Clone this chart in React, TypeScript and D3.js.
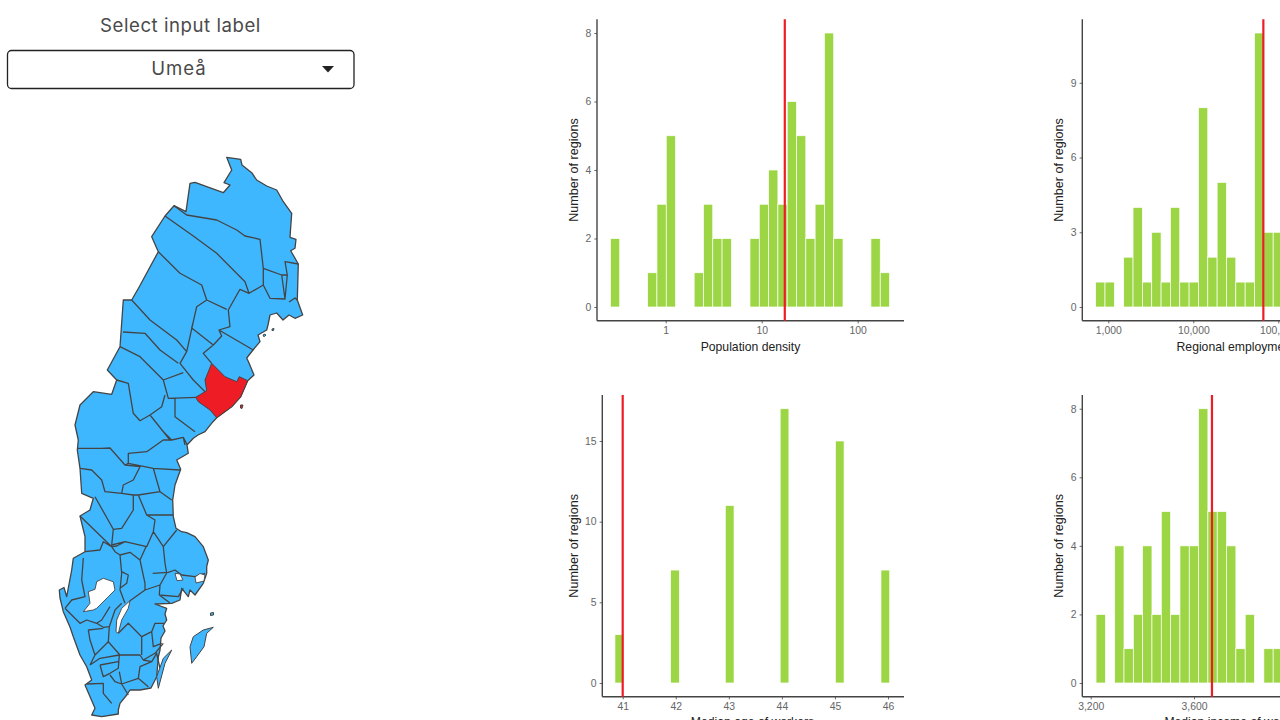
import React, { useEffect, useRef } from "react";
import * as d3 from "d3";

// ---------- histogram data ----------
const densityCounts = [2,0,0,0,1,3,5,0,0,1,3,2,2,0,0,2,3,4,3,6,5,2,3,8,2,0,0,0,2,1];
const densityFirstBin = 0.297;
const densityBinRatio = 1.25;
const densityMarker = 17.4;
const densityTicks = [1, 10, 100];

const employmentCounts = [1,1,0,2,4,1,3,1,4,1,1,8,2,5,2,1,1,11,3,3];
const employmentFirstBin = 806;
const employmentBinRatio = 1.288;
const employmentMarker = 66700;
const employmentTicks = [1000, 10000, 100000];

const ageBins = [40.936, 41.986, 43.016, 44.05, 45.09, 45.95];
const ageCounts = [3, 7, 11, 17, 15, 7];
const ageMarker = 41;
const ageTicks = [41, 42, 43, 44, 45, 46];

const incomeCounts = [2,0,4,1,2,4,2,5,2,4,4,8,5,5,4,1,2,0,1,1];
const incomeFirstBin = 3238.7;
const incomeBinWidth = 36.1;
const incomeMarker = 3669.6;
const incomeTicks = [3200, 3600];

const countTicksA = [0, 2, 4, 6, 8];
const countTicksB = [0, 3, 6, 9];
const countTicksC = [0, 5, 10, 15];

// ---------- map outlines, traced in picture units ----------
const swedenOutline: number[][] = [
  [226.7,157.3],[240.7,159.3],[242,165],[251.7,172.7],[256.7,180],[266.7,186],[276.7,190],[283.3,201.7],[291.7,213.3],
  [290,237.3],[296,239.3],[295,248.3],[290.7,250.7],[298.3,264],[297.3,300],[302.7,315],[295,318.3],[289,315],[283,320],
  [276.7,313],[270,315],[268,325],[266.7,330],[258,335],[260,341.7],[253,350],[246.7,358],[249,363],[254,375],[247.7,380.7],
  [240.7,396.7],[231.7,406.7],[216.7,417.7],[213,421.7],[205,431.7],[198,435],[193.3,438.3],[187,445],[188.3,453.3],
  [176.7,460],[180.7,469.3],[175,485],[172.7,500],[173.3,516.7],[176,528.3],[181.7,531.7],[186.7,532.7],[195,536.7],
  [203.3,546.7],[208.3,560],[206.7,566.7],[206.7,573.3],[203.3,583.3],[195,595],[190,590],[188.3,596.7],[181.7,588.3],
  [180,600],[171.7,603.3],[155,604],[166.7,608.3],[165,614],[166.7,620],[163,626],[165,631],[161,638],[160,650],[158.3,657],
  [156.7,676.7],[151,688],[140,690],[130,690],[126.7,695],[120,703.3],[118.3,710],[118.3,714],[101.7,716.7],[91.7,715],[95,708.3],
  [85,685],[91.7,680],[86.7,666.7],[80,655],[73.3,636.7],[70,627],[63.3,611.7],[60,598],[59.3,590],[64,587.5],[66.7,596.7],
  [71.7,570],[73.3,558.3],[85,551.7],[85,536.7],[80,516],[90,510],[93.3,498.3],[81.7,493.3],
  [80,468.3],[77.3,450],[78.3,440],[75,425],[80,405],[93.3,391.7],[111.7,394.3],[116.7,380],[107.3,370],[120,346.7],[123.3,300],
  [131.7,300],[139.3,286.7],[158.3,251.7],[151.7,236.7],[165,216],[174,205.7],[186,211.7],[190,183.3],[195,182.3],[223.3,192.7],
  [230,185],[224,182.7],[231.7,170],
];
const umeaRegion: number[][][] = [
  [[211.7,363.3],[225,376.7],[236.7,381.7],[239.3,376.7],[247.7,380.7],[240.7,396.7],[231.7,406.7],[216.7,417.7],[210,410],
   [198.3,401.7],[195.7,397.3],[206.7,390.7],[205,380]],
  [[240.5,405],[243,405],[242,408.5],[240.5,408]],
];
const regionBorders: number[][][] = [
  [[174,205.7],[186.7,215],[216.7,220],[236.7,230],[245,236],[260,239.3],[263.3,268.3],[281.7,275],[287.3,275],[285,261.7],[298.3,264]],
  [[165,216],[193.3,236],[216.7,253.3],[245,281.7],[249,293.3],[263.3,285],[263.3,268.3]],
  [[263.3,285],[270,298.3],[285,299],[281.7,275]],
  [[285,299],[287.3,275]],
  [[289,302],[295,298],[297.3,300]],
  [[249,293.3],[240,289.3],[228.3,310],[230,326.7],[219,330],[253.3,350]],
  [[158.3,251.7],[180,273.3],[201.7,285],[206.7,300],[226.7,309.3]],
  [[206.7,300],[196.7,306.7],[193.3,321.7],[191.7,328],[213.3,345],[221.7,336],[219,330]],
  [[213.3,345],[203.3,353.3],[211.7,363.3]],
  [[131.7,300],[150,320],[176.7,340],[186.7,351.7],[193.3,321.7]],
  [[186.7,351.7],[180,363.3],[193.3,380],[205,391.7]],
  [[123,332],[145,333.3],[160,350],[178.3,363.3]],
  [[120,346.7],[140,356.7],[163.3,380],[183.3,372.7]],
  [[163.3,380],[168.3,398.3],[196.7,397.3]],
  [[116.7,380],[128.3,383.3],[133.3,413.3],[140,420.7],[150,415],[161.7,406.7],[165,395]],
  [[175,398],[175,416.7],[188.3,426.7],[195,431.7]],
  [[150,415],[170,440]],
  [[161.7,430],[171.7,440],[183.3,437.3],[187.3,445]],
  [[183.3,437.3],[185,445]],
  [[171.7,440],[163.3,440],[146.7,451.7],[128.3,453.3],[128.3,463.3],[153.3,468.3],[180,470]],
  [[77.3,448.3],[101.7,448.3],[110,448],[125,465],[128.3,463.3]],
  [[80,468.3],[91.7,470],[101.7,480],[105,491.7],[121.7,493.3],[133.3,495],[133.3,510],[121.7,528.3],[113.3,529.3],[95,496.7]],
  [[125,465],[140,466.7],[133.3,480],[123.3,485],[121.7,493.3]],
  [[153.3,468.3],[160,491.7],[138.3,495],[133.3,495]],
  [[160,491.7],[171.7,500]],
  [[138.3,495],[146.7,515],[173,515]],
  [[146.7,515],[155,520],[153.3,531.7],[146.7,546.7],[125,541.7],[116.7,546],[111.7,546.7]],
  [[153.3,531.7],[163.3,546.7],[176.7,530]],
  [[113.3,529.3],[111.7,545],[125,541.7]],
  [[111.7,546.7],[103.3,541.7],[100,550],[85,551.7]],
  [[80,516],[111.7,546.7],[115,551.7],[120,555]],
  [[83.3,558],[81.7,580],[85,596.7],[71.7,600],[65,608.3]],
  [[120,555],[121.7,573.3],[120,590],[125,603.3]],
  [[121.7,571.7],[128.3,575],[126.7,583.3],[120,588.3]],
  [[120,555],[130,552.3],[140,560],[145,583.3],[145,590],[130,600.7]],
  [[140,560],[146,546.7]],
  [[163.3,546.7],[165,563.3],[166.7,573],[160,585],[145,590]],
  [[152.7,573.3],[168.3,572.3],[175,570],[181.7,575],[195,576.7],[205,573.3]],
  [[160,585],[159.3,595],[178.3,596.7],[183.3,588.3]],
  [[159.3,595],[170,603]],
  [[65,608.3],[71.7,615],[80,623.3],[86.7,620],[96.7,623.3],[101.7,620],[110,606.7]],
  [[96.7,623.3],[103.3,627.3],[109.3,626.7],[115,610],[121.7,603.3]],
  [[109.3,626.7],[108.3,641.7],[120,655],[140,655],[143.3,660],[155,653.3],[163.3,643.3]],
  [[118.3,633.3],[128.3,623.3],[141.7,636.7],[151.7,631.7],[155,623.3],[164,623.3]],
  [[141.7,636.7],[141.7,655]],
  [[151.7,631.7],[153.3,646.7],[161.7,643.3]],
  [[88.3,630],[103.3,628.3]],
  [[88.3,630],[90,640],[95,655],[90,665]],
  [[95,655],[108.3,641.7]],
  [[90,665],[100,658.3],[119.3,655]],
  [[100,665],[103.3,676.7],[110,673.3],[118.3,668.3],[119.3,655]],
  [[100,665],[118.3,661.7]],
  [[110,675],[115,681.7],[121.7,684]],
  [[119.3,671.7],[121.7,684],[138.3,678.3],[148.3,686.7]],
  [[138.3,678.3],[140,666.7],[151.7,661.7],[156.7,653.3],[160,668.3]],
  [[143.3,660],[151.7,661.7]],
  [[86.7,684],[103.3,683.3],[103.3,693.3],[111.7,703.3]],
  [[115,681.7],[121.7,684],[128.3,695]],
];
const lakeOutlines: number[][][] = [
  [[96.7,581.7],[103.3,578.3],[113.3,581.7],[115,590],[108.3,596.7],[100,605],[96.7,608.3],[93.3,610],[83.3,611.7],[90,603.3],[88.3,591.7],[95,589.3]],
  [[130,600.7],[128.3,608.3],[121.7,620],[118.3,633.3],[116,631.7],[116.7,620],[121.7,608.3]],
  [[175,573.3],[180,574],[183,580],[177,580.7]],
  [[195,577],[200,573.5],[205,575],[204,581],[196,583]],
];
const islandOutlines: number[][][] = [
  [[171.7,650],[165,663.3],[158.3,688.3],[156.7,676.7],[163.3,658.3]],
  [[213.3,627.3],[203.3,630],[193.3,636.7],[190,646.7],[191.7,663.3],[196.7,656.7],[204,646.7],[206.7,633.3]],
  [[210.5,613],[213.5,612.5],[213.5,615],[210.5,615.5]],
  [[272,329],[274,328.5],[273.5,330.5],[272,330.5]],
  [[264,334],[266,335],[264.5,336.5],[263,336]],
];

const titleText = "Select input label";
const selectedRegion = "Umeå";
const countTitle = "Number of regions";

// ---------- look ----------
const barColor = "#9DD644";
const markerColor = "#EE1C25";
const blue = "#3FB7FF";

const toMulti = (rings: number[][][]) => ({ type: "MultiPolygon", coordinates: rings.map((r) => [[...r, r[0]]]) });
const mapPath = d3.geoPath(d3.geoIdentity());

type Bin = { lo: number; hi: number; n: number };

function Panel(props: {
  x: any; y: any; left: number; right: number; bins: Bin[]; marker: number; xTicks: number[]; yTicks: number[];
  fmt: (v: number) => string; title: string; titleX: number; yTitleX: number; xTitleY: number;
}) {
  const { x, y, left, right, bins, marker, xTicks, yTicks, fmt, title, titleX, yTitleX, xTitleY } = props;
  const gx = useRef<SVGGElement>(null);
  const gy = useRef<SVGGElement>(null);
  const [y0, y1] = y.range();
  useEffect(() => {
    const ax = d3.axisBottom(x).tickValues(xTicks).tickFormat(fmt as any).tickSize(2.7).tickPadding(2.8);
    const ay = d3.axisLeft(y).tickValues(yTicks).tickFormat(d3.format("d") as any).tickSize(2.7).tickPadding(3);
    for (const [ref, a] of [[gx, ax], [gy, ay]] as any[]) {
      const s = d3.select(ref.current);
      s.call(a);
      s.select(".domain").remove();
      s.selectAll("line").attr("stroke", "#444").attr("stroke-width", 0.8);
      s.selectAll("text").attr("fill", "#666").attr("font-size", 10.4).attr("font-family", "Liberation Sans");
    }
  }, []);
  return (
    <g>
      {bins.filter((b) => b.n > 0).map((b, i) => (
        <rect key={i} x={x(b.lo)} width={x(b.hi) - x(b.lo)} y={y(b.n)} height={y(0) - y(b.n)}
          fill={barColor} stroke="#fff" strokeWidth={0.7} />
      ))}
      <line x1={left} x2={left} y1={y0} y2={y1} stroke="#444" strokeWidth={1.4} />
      <line x1={left} x2={right} y1={y0} y2={y0} stroke="#444" strokeWidth={1.4} />
      <g ref={gx} transform={`translate(0,${y0})`} />
      <g ref={gy} transform={`translate(${left},0)`} />
      <line x1={x(marker)} x2={x(marker)} y1={y1} y2={y0} stroke={markerColor} strokeWidth={2.2} />
      <text x={titleX} y={xTitleY} textAnchor="middle" fontFamily="Liberation Sans" fontSize={12.2} fill="#222">{title}</text>
      <text transform={`translate(${yTitleX},${(y0 + y1) / 2}) rotate(-90)`} textAnchor="middle"
        fontFamily="Liberation Sans" fontSize={12.6} fill="#222">{countTitle}</text>
    </g>
  );
}

const ratioBins = (counts: number[], first: number, ratio: number): Bin[] =>
  counts.map((n, i) => {
    const c = first * Math.pow(ratio, i);
    return { lo: c / Math.sqrt(ratio), hi: c * Math.sqrt(ratio), n };
  });
const comma = d3.format(",");

export default function App() {
  const densityX = d3.scaleLog().domain([1, 100]).range([665.7, 857.7]);
  const employmentX = d3.scaleLog().domain([1000, 100000]).range([1108.3, 1278.3]);
  const ageX = d3.scaleLinear().domain([41, 46]).range([622.7, 888]);
  const incomeX = d3.scaleLinear().domain([3200, 3600]).range([1090.7, 1194]);
  const topCount = d3.scaleLinear().domain([-0.4, 8.4]).range([320.7, 19.3]);
  const employCount = d3.scaleLinear().domain([-0.55, 11.55]).range([320.7, 19.3]);
  const ageCount = d3.scaleLinear().domain([-0.85, 17.85]).range([696.7, 395]);
  const incomeCount = d3.scaleLinear().domain([-0.4, 8.4]).range([696.7, 395]);
  const ageBinWidth = 0.165;

  return (
    <svg width={1280} height={720} viewBox="0 0 1280 720"
      style={{ position: "absolute", left: 0, top: 0, display: "block", background: "#fff" }}>
      <text x={180.5} y={32} textAnchor="middle" fontFamily="Inter" fontSize={18.6} letterSpacing={0.55} fill="#4a4a4a">{titleText}</text>
      <rect x={7.5} y={50.5} width={346.5} height={38} rx={4} fill="#fff" stroke="#222" strokeWidth={1.3} />
      <text x={179} y={75} textAnchor="middle" fontFamily="Inter" fontSize={18.6} letterSpacing={1} fill="#4a4a4a">{selectedRegion}</text>
      <path d={d3.line()([[322, 66], [334, 66], [328, 72.5]]) + "Z"} fill="#222" />

      <g strokeLinejoin="round">
        <path d={mapPath(toMulti([swedenOutline]) as any) ?? ""} fill={blue} stroke="#444" strokeWidth={1.3} />
        <path d={mapPath({ type: "MultiLineString", coordinates: regionBorders } as any) ?? ""} fill="none" stroke="#444" strokeWidth={1.3} />
        <path d={mapPath(toMulti(lakeOutlines) as any) ?? ""} fill="#fff" stroke="#444" strokeWidth={0.9} />
        <path d={mapPath(toMulti(islandOutlines) as any) ?? ""} fill={blue} stroke="#444" strokeWidth={1} />
        <path d={mapPath(toMulti(umeaRegion) as any) ?? ""} fill={markerColor} stroke="#444" strokeWidth={1} />
      </g>

      <Panel x={densityX} y={topCount} left={597} right={904} bins={ratioBins(densityCounts, densityFirstBin, densityBinRatio)}
        marker={densityMarker} xTicks={densityTicks} yTicks={countTicksA} fmt={comma}
        title="Population density" titleX={750.5} yTitleX={577.5} xTitleY={350.5} />
      <Panel x={employmentX} y={employCount} left={1082.3} right={1390} bins={ratioBins(employmentCounts, employmentFirstBin, employmentBinRatio)}
        marker={employmentMarker} xTicks={employmentTicks} yTicks={countTicksB} fmt={comma}
        title="Regional employment" titleX={1235.5} yTitleX={1063} xTitleY={350.5} />
      <Panel x={ageX} y={ageCount} left={602.3} right={904} bins={ageBins.map((b, i) => ({ lo: b - ageBinWidth / 2, hi: b + ageBinWidth / 2, n: ageCounts[i] }))}
        marker={ageMarker} xTicks={ageTicks} yTicks={countTicksC} fmt={String}
        title="Median age of workers" titleX={752.5} yTitleX={577.5} xTitleY={726} />
      <Panel x={incomeX} y={incomeCount} left={1082.3} right={1390} bins={incomeCounts.map((n, i) => ({ lo: incomeFirstBin + (i - 0.5) * incomeBinWidth, hi: incomeFirstBin + (i + 0.5) * incomeBinWidth, n }))}
        marker={incomeMarker} xTicks={incomeTicks} yTicks={countTicksA} fmt={comma}
        title="Median income of workers" titleX={1235.5} yTitleX={1063} xTitleY={726} />
    </svg>
  );
}
